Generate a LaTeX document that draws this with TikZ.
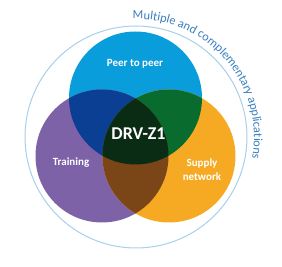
\documentclass[tikz,border=0pt]{standalone}
\usepackage{fontspec}
\setmainfont{Carlito}
\usetikzlibrary{decorations.text}
\definecolor{cblue}{HTML}{0A9DDC}
\definecolor{cpurple}{HTML}{7D62A8}
\definecolor{corange}{HTML}{F6AA23}
\definecolor{cdarkblue}{HTML}{0B3F93}
\definecolor{cgreen}{HTML}{0A6B2F}
\definecolor{cbrown}{HTML}{7B4617}
\definecolor{ccenter}{HTML}{0B2C14}
\definecolor{couter}{HTML}{A8D0EA}
\definecolor{ctext}{HTML}{3A7FC0}
\tikzset{
  lbl/.style={text=white, font=\bfseries\fontsize{11}{14}\selectfont, align=center, inner sep=0pt},
  biglbl/.style={text=white, font=\bfseries\fontsize{18}{20}\selectfont, inner sep=0pt},
}
\begin{document}
\begin{tikzpicture}[x=1pt,y=1pt]
\useasboundingbox (0,0) rectangle (282,267);
\def\R{66.5}
\coordinate (cb) at (135.5,169);
\coordinate (cp) at (102,111);
\coordinate (co) at (169,111);
\coordinate (cc) at (136,130);
% outer ring
\draw[couter, line width=1pt] (cc) circle[radius=111];
% arc text
\path[decorate, decoration={text along path, text align=center,
  text={|\color{ctext}\fontsize{12.4}{14}\selectfont|Multiple and complementary applications}}]
  (cc) ++(104:118) arc[start angle=104, end angle=-23, radius=118];
% circles
\fill[cblue] (cb) circle[radius=\R];
\fill[cpurple] (cp) circle[radius=\R];
\fill[corange] (co) circle[radius=\R];
\begin{scope}
  \clip (cb) circle[radius=\R];
  \fill[cdarkblue] (cp) circle[radius=\R];
  \fill[cgreen] (co) circle[radius=\R];
\end{scope}
\begin{scope}
  \clip (cp) circle[radius=\R];
  \fill[cbrown] (co) circle[radius=\R];
\end{scope}
\begin{scope}
  \clip (cb) circle[radius=\R];
  \clip (cp) circle[radius=\R];
  \fill[ccenter] (co) circle[radius=\R];
\end{scope}
% labels
\node[lbl] (peer) at (135,203) {Peer to peer};
\node[biglbl] (drv) at (138.5,133) {DRV-Z1};
\node[lbl] (train) at (71,104) {Training};
\node[lbl] (supply) at (202,97) {Supply\\network};
\end{tikzpicture}
\end{document}
